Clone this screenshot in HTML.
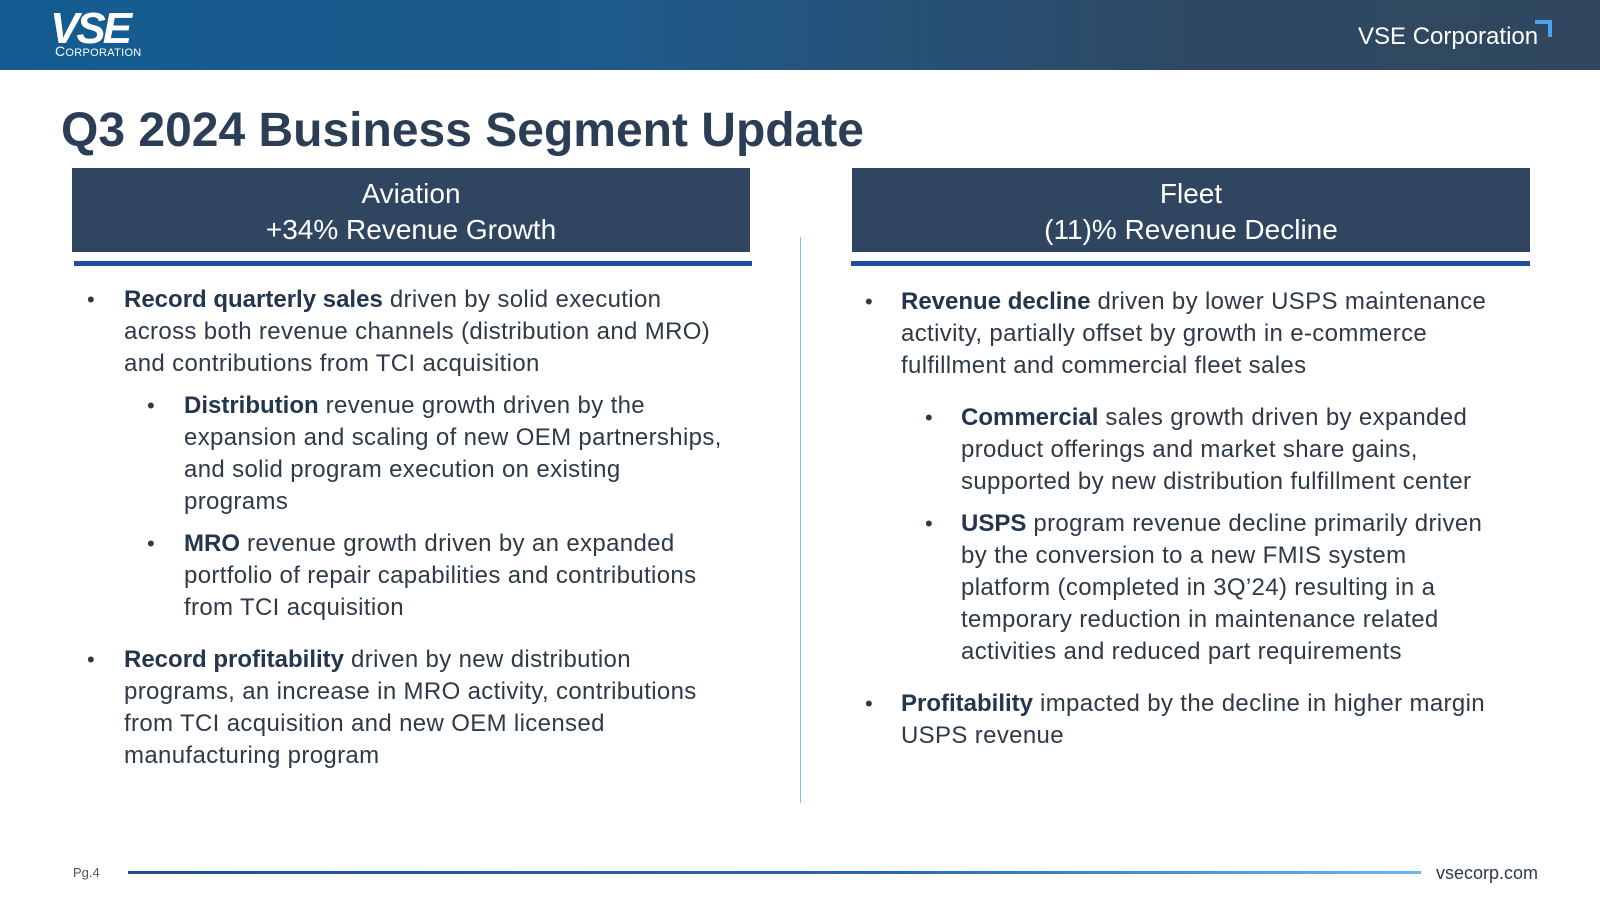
<!DOCTYPE html>
<html><head><meta charset="utf-8">
<style>
*{margin:0;padding:0;box-sizing:border-box}
body{width:1600px;height:900px;position:relative;background:#fff;font-family:"Liberation Sans",sans-serif;color:#2b3b4f;overflow:hidden}
.abs{position:absolute}
.p{position:absolute;font-size:24px;line-height:32.1px;white-space:nowrap;color:#2e3a48;letter-spacing:0.35px}
.p b{font-weight:bold;color:#24364d;letter-spacing:0}
.dot{position:absolute;font-size:22px;line-height:32px;color:#2e3a48}
.box{position:absolute;top:168px;height:84px;background:#2f4560;color:#fff;text-align:center;font-size:28px;line-height:36px;padding-top:8px}
.bar{position:absolute;top:261px;height:5px;background:#1f4f9c}
</style></head><body>
<div class="abs" style="left:0;top:0;width:1600px;height:70px;background:linear-gradient(90deg,#135c91 0%,#1f5a8a 40%,#2e4862 75%,#31475f 100%)"></div>
<div class="abs" style="left:50px;top:11px;color:#fff;font-weight:bold;font-size:44px;line-height:36px;letter-spacing:-3px;font-style:italic">VSE</div>
<div class="abs" style="left:55px;top:43px;color:#fff;font-size:14px;letter-spacing:0.3px">C<span style="font-size:11px">ORPORATION</span></div>
<div class="abs" style="left:1358px;top:23px;color:#fff;font-size:24px">VSE Corporation</div>
<div class="abs" style="left:1535px;top:20px;width:17px;height:17px;border-top:4px solid #4aa3f0;border-right:4px solid #4aa3f0"></div>

<div class="abs" style="left:61px;top:103px;font-size:48px;font-weight:bold;color:#2b3e55">Q3 2024 Business Segment Update</div>

<div class="box" style="left:72px;width:678px">Aviation<br>+34% Revenue Growth</div>
<div class="bar" style="left:74px;width:678px"></div>
<div class="box" style="left:852px;width:678px">Fleet<br>(11)% Revenue Decline</div>
<div class="bar" style="left:851px;width:679px"></div>

<div class="abs" style="left:800px;top:237px;width:1px;height:566px;background:#7cc0e8"></div>

<div class="dot" style="left:87px;top:284px">•</div>
<div class="p" style="left:124px;top:284px"><b>Record quarterly sales</b> driven by solid execution<br>across both revenue channels (distribution and MRO)<br>and contributions from TCI acquisition</div>
<div class="dot" style="left:147px;top:390px">•</div>
<div class="p" style="left:184px;top:390px"><b>Distribution</b> revenue growth driven by the<br>expansion and scaling of new OEM partnerships,<br>and solid program execution on existing<br>programs</div>
<div class="dot" style="left:147px;top:528px">•</div>
<div class="p" style="left:184px;top:528px"><b>MRO</b> revenue growth driven by an expanded<br>portfolio of repair capabilities and contributions<br>from TCI acquisition</div>
<div class="dot" style="left:87px;top:644px">•</div>
<div class="p" style="left:124px;top:644px"><b>Record profitability</b> driven by new distribution<br>programs, an increase in MRO activity, contributions<br>from TCI acquisition and new OEM licensed<br>manufacturing program</div>

<div class="dot" style="left:865px;top:286px">•</div>
<div class="p" style="left:901px;top:286px"><b>Revenue decline</b> driven by lower USPS maintenance<br>activity, partially offset by growth in e-commerce<br>fulfillment and commercial fleet sales</div>
<div class="dot" style="left:925px;top:402px">•</div>
<div class="p" style="left:961px;top:402px"><b>Commercial</b> sales growth driven by expanded<br>product offerings and market share gains,<br>supported by new distribution fulfillment center</div>
<div class="dot" style="left:925px;top:508px">•</div>
<div class="p" style="left:961px;top:508px"><b>USPS</b> program revenue decline primarily driven<br>by the conversion to a new FMIS system<br>platform (completed in 3Q’24) resulting in a<br>temporary reduction in maintenance related<br>activities and reduced part requirements</div>
<div class="dot" style="left:865px;top:688px">•</div>
<div class="p" style="left:901px;top:688px"><b>Profitability</b> impacted by the decline in higher margin<br>USPS revenue</div>

<div class="abs" style="left:73px;top:865px;font-size:13px;color:#555">Pg.4</div>
<div class="abs" style="left:128px;top:871px;width:1293px;height:3px;background:linear-gradient(90deg,#1d4f86,#2b6aa8 60%,#6bb8e8)"></div>
<div class="abs" style="left:1436px;top:863px;font-size:18px;color:#2e3a48">vsecorp.com</div>
</body></html>
